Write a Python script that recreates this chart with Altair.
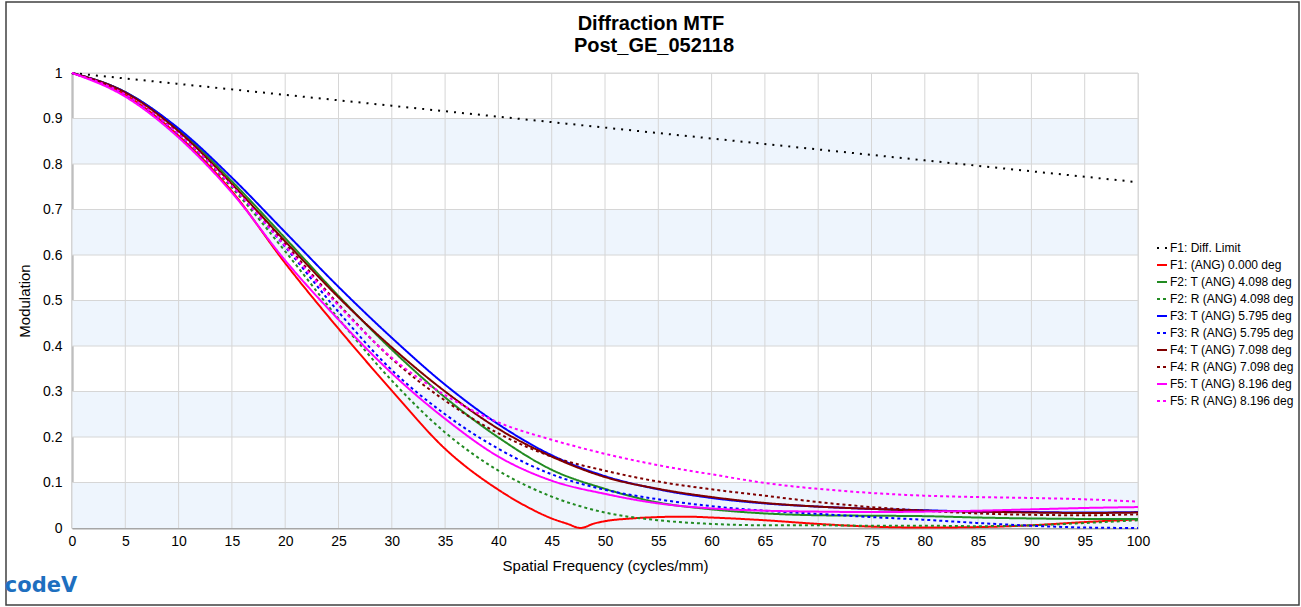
import altair as alt
import pandas as pd

# ---- data ----
freq = [0, 5, 10, 15, 20, 25, 30, 35, 40, 45, 50, 55, 60, 65, 70, 75, 80, 85, 90, 95, 100]

diff_limit = [1.000, 0.988, 0.976, 0.964, 0.952, 0.940, 0.928, 0.916, 0.904, 0.892, 0.880,
              0.868, 0.856, 0.844, 0.832, 0.820, 0.808, 0.796, 0.784, 0.772, 0.760]

red_freq = [0, 5, 10, 15, 20, 25, 30, 35, 40, 42.5, 45, 46.5, 47.7, 49, 50, 52.5, 55, 57.5, 60,
            65, 70, 75, 80, 85, 90, 95, 100]
f1_ang = [1.000, 0.952, 0.862, 0.740, 0.582, 0.438, 0.302, 0.174, 0.084, 0.049, 0.021, 0.009,
          0.000, 0.010, 0.015, 0.021, 0.024, 0.025, 0.023, 0.017, 0.009, 0.003, 0.001, 0.002,
          0.006, 0.013, 0.019]

f2_t = [1.000, 0.958, 0.876, 0.762, 0.637, 0.510, 0.392, 0.287, 0.199, 0.128, 0.086,
        0.056, 0.041, 0.032, 0.028, 0.027, 0.026, 0.023, 0.021, 0.020, 0.020]
f2_r = [1.000, 0.953, 0.865, 0.748, 0.608, 0.460, 0.324, 0.210, 0.126, 0.069, 0.034,
        0.017, 0.009, 0.006, 0.006, 0.005, 0.005, 0.004, 0.006, 0.011, 0.017]
f3_t = [1.000, 0.958, 0.878, 0.770, 0.650, 0.530, 0.418, 0.315, 0.228, 0.160, 0.114,
        0.085, 0.066, 0.054, 0.047, 0.042, 0.039, 0.036, 0.035, 0.034, 0.035]
f3_r = [1.000, 0.953, 0.866, 0.752, 0.618, 0.475, 0.347, 0.250, 0.174, 0.118, 0.084,
        0.063, 0.048, 0.038, 0.031, 0.024, 0.018, 0.011, 0.005, 0.001, 0.000]
f4_t = [1.000, 0.957, 0.872, 0.756, 0.630, 0.507, 0.397, 0.300, 0.218, 0.157, 0.112,
        0.086, 0.068, 0.055, 0.047, 0.042, 0.038, 0.036, 0.034, 0.033, 0.034]
f4_r = [1.000, 0.954, 0.868, 0.755, 0.625, 0.492, 0.372, 0.280, 0.208, 0.157, 0.126,
        0.102, 0.085, 0.071, 0.057, 0.046, 0.038, 0.032, 0.029, 0.028, 0.030]
f5_t = [1.000, 0.948, 0.858, 0.737, 0.588, 0.458, 0.340, 0.240, 0.157, 0.104, 0.075,
        0.054, 0.043, 0.038, 0.036, 0.035, 0.036, 0.038, 0.041, 0.044, 0.046]
f5_r = [1.000, 0.953, 0.866, 0.752, 0.620, 0.489, 0.374, 0.292, 0.232, 0.194, 0.163,
        0.138, 0.118, 0.099, 0.086, 0.077, 0.071, 0.068, 0.066, 0.063, 0.058]

series_names = ["F1: Diff. Limit", "F1: (ANG) 0.000 deg", "F2: T (ANG) 4.098 deg",
                "F2: R (ANG) 4.098 deg", "F3: T (ANG) 5.795 deg", "F3: R (ANG) 5.795 deg",
                "F4: T (ANG) 7.098 deg", "F4: R (ANG) 7.098 deg", "F5: T (ANG) 8.196 deg",
                "F5: R (ANG) 8.196 deg"]
series_colors = ["#000000", "#FF0000", "#228B22", "#228B22", "#0000FF", "#0000FF",
                 "#800000", "#800000", "#FF00FF", "#FF00FF"]
series_dashes = [[2, 6], [1, 0], [1, 0], [3, 3], [1, 0], [3, 3], [1, 0], [3, 3], [1, 0], [3, 3]]

title_lines = ["Diffraction MTF", "Post_GE_052118"]
x_ticks = [0, 5, 10, 15, 20, 25, 30, 35, 40, 45, 50, 55, 60, 65, 70, 75, 80, 85, 90, 95, 100]
y_ticks = [0, 0.1, 0.2, 0.3, 0.4, 0.5, 0.6, 0.7, 0.8, 0.9, 1.0]
band_low = [0.0, 0.2, 0.4, 0.6, 0.8]
band_high = [0.1, 0.3, 0.5, 0.7, 0.9]

# ---- build long table ----
rows = []
series_data = [(freq, diff_limit), (red_freq, f1_ang), (freq, f2_t), (freq, f2_r),
               (freq, f3_t), (freq, f3_r), (freq, f4_t), (freq, f4_r), (freq, f5_t),
               (freq, f5_r)]
for name, (fx, vals) in zip(series_names, series_data):
    for f, v in zip(fx, vals):
        rows.append({"f": f, "v": v, "series": name})
df = pd.DataFrame(rows)

FONT = "Liberation Sans"
W, H = 1066, 455

x_scale = alt.Scale(domain=[0, 100], nice=False, zero=False)
y_scale = alt.Scale(domain=[0, 1], nice=False)
x_axis = alt.Axis(values=x_ticks, grid=False, ticks=False, domainColor="#A6A6A6",
                  domainWidth=2, labelFont=FONT, labelFontSize=14, labelColor="#000000",
                  labelPadding=6, labelFlush=False, titleFont=FONT, titleFontSize=15,
                  titleFontWeight="normal", titleColor="#000000", titlePadding=10)
y_axis = alt.Axis(values=y_ticks, format="~g", grid=False, ticks=False, domainColor="#A6A6A6",
                  domainWidth=2, labelFont=FONT, labelFontSize=14, labelColor="#000000",
                  labelPadding=10, labelFlush=False, titleFont=FONT, titleFontSize=15,
                  titleFontWeight="normal", titleColor="#000000", titlePadding=10)
X_TITLE = "Spatial Frequency (cycles/mm)"
Y_TITLE = "Modulation"

bands = alt.Chart(pd.DataFrame({"lo": band_low, "hi": band_high})).mark_rect(
    color="#EEF5FD").encode(
    x=alt.datum(0, scale=x_scale, axis=x_axis, title=X_TITLE),
    x2=alt.datum(100),
    y=alt.Y("lo:Q", scale=y_scale, axis=y_axis, title=Y_TITLE),
    y2="hi:Q",
)

xgrid = alt.Chart(pd.DataFrame({"f": x_ticks})).mark_rule(color="#D6D6D6", strokeWidth=1).encode(
    x=alt.X("f:Q", scale=x_scale, axis=x_axis, title=X_TITLE)
)
ygrid = alt.Chart(pd.DataFrame({"v": y_ticks[1:]})).mark_rule(color="#D6D6D6", strokeWidth=1).encode(
    y=alt.Y("v:Q", scale=y_scale, axis=y_axis, title=Y_TITLE)
)

legend = alt.Legend(title=None, orient="none", legendX=1084, legendY=169,
                    symbolType="stroke", symbolSize=100, symbolStrokeWidth=2,
                    labelFont=FONT, labelFontSize=12, labelColor="#000000",
                    rowPadding=5, labelOffset=2, labelLimit=300)

lines = alt.Chart(df).mark_line(strokeWidth=2, interpolate="monotone").encode(
    x=alt.X("f:Q", scale=x_scale, axis=x_axis, title=X_TITLE),
    y=alt.Y("v:Q", scale=y_scale, axis=y_axis, title=Y_TITLE),
    color=alt.Color("series:N", scale=alt.Scale(domain=series_names, range=series_colors),
                    legend=legend, sort=series_names),
    strokeDash=alt.StrokeDash("series:N", scale=alt.Scale(domain=series_names, range=series_dashes),
                              legend=legend, sort=series_names),
)

one = pd.DataFrame({"a": [0]})
frame = alt.Chart(one).mark_rect(fill="transparent", stroke="#404040", strokeWidth=1.5).encode(
    x=alt.value(-66), x2=alt.value(1227), y=alt.value(-71), y2=alt.value(532)
)
logo = alt.Chart(one).mark_text(text="codeV", font="DejaVu Sans", fontSize=21, fontWeight="bold",
                                color="#1E6FBF", align="center", baseline="middle").encode(
    x=alt.value(-31), y=alt.value(513)
)
title1 = alt.Chart(one).mark_text(text=title_lines[0], font=FONT, fontSize=20, fontWeight="bold",
                                  color="#000000", align="center", baseline="alphabetic").encode(
    x=alt.value(579), y=alt.value(-43)
)
title2 = alt.Chart(one).mark_text(text=title_lines[1], font=FONT, fontSize=20, fontWeight="bold",
                                  color="#000000", align="center", baseline="alphabetic").encode(
    x=alt.value(582), y=alt.value(-21)
)

chart = alt.layer(bands, xgrid, ygrid, lines, frame, logo, title1, title2).properties(
    width=W, height=H,
    autosize=alt.AutoSizeParams(type="none"),
    padding={"left": 72, "top": 73, "right": 163, "bottom": 79},
).configure_view(stroke=None).configure(background="white")

chart.save("out.html", embed_options={"renderer": "svg", "actions": False})
